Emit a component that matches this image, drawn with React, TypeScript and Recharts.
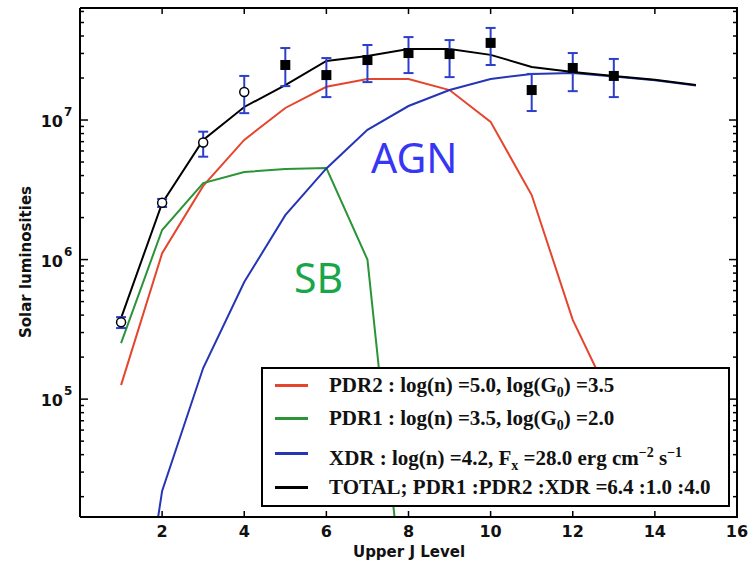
import React from 'react';
import { ComposedChart, Line, Scatter, XAxis, YAxis, ErrorBar, Legend, ReferenceLine } from 'recharts';

// ---- data ----
const jLevels = [1, 2, 3, 4, 5, 6, 7, 8, 9, 10, 11, 12, 13, 14, 15];
const pdr2 = [1.26e5, 1.11e6, 3.37e6, 7.2e6, 1.22e7, 1.73e7, 1.97e7, 1.97e7, 1.64e7, 9.7e6, 2.9e6, 3.7e5, 9.0e4, null, null];
const pdr1 = [2.52e5, 1.63e6, 3.53e6, 4.24e6, 4.45e6, 4.53e6, 1.0e6, 1.6e3, null, null, null, null, null, null, null];
const xdr = [2.6e2, 2.2e4, 1.67e5, 6.9e5, 2.08e6, 4.5e6, 8.5e6, 1.26e7, 1.64e7, 1.97e7, 2.14e7, 2.17e7, 2.05e7, 1.93e7, 1.77e7];
const total = [3.81e5, 2.54e6, 7.2e6, 1.24e7, 1.78e7, 2.65e7, 2.88e7, 3.23e7, 3.23e7, 2.93e7, 2.4e7, 2.21e7, 2.07e7, 1.94e7, 1.78e7];

const obsJ = [1, 2, 3, 4, 5, 6, 7, 8, 9, 10, 11, 12, 13];
const obsVal = [3.56e5, 2.55e6, 6.9e6, 1.59e7, 2.48e7, 2.1e7, 2.69e7, 3.02e7, 2.97e7, 3.57e7, 1.64e7, 2.36e7, 2.07e7];
const obsLow = [3.23e5, 2.38e6, 5.46e6, 1.12e7, 1.75e7, 1.46e7, 1.87e7, 2.17e7, 2.03e7, 2.48e7, 1.16e7, 1.61e7, 1.46e7];
const obsHigh = [3.87e5, 2.72e6, 8.25e6, 2.07e7, 3.28e7, 2.78e7, 3.45e7, 3.93e7, 3.74e7, 4.57e7, 2.14e7, 3.02e7, 2.74e7];
const obsOpen = [true, true, true, true, false, false, false, false, false, false, false, false, false];

const xTicks = [2, 4, 6, 8, 10, 12, 14, 16];
const yMajorTicks = [1e5, 1e6, 1e7];
const yMajorLabels = ['5', '6', '7'];
const yTicks = [
  2e4, 3e4, 4e4, 5e4, 6e4, 7e4, 8e4, 9e4,
  1e5, 2e5, 3e5, 4e5, 5e5, 6e5, 7e5, 8e5, 9e5,
  1e6, 2e6, 3e6, 4e6, 5e6, 6e6, 7e6, 8e6, 9e6,
  1e7, 2e7, 3e7, 4e7, 5e7, 6e7,
];
const yDomain = [1.43e4, 6.35e7];
const xDomain = [0, 16];

const RED = '#e6452d';
const GREEN = '#2a9437';
const BLUE = '#2535b5';
const ERR = '#2b3fcc';

// layout (pixels)
const W = 755;
const H = 563;
const M = { top: 8, right: 18, bottom: 0, left: 0 };
const Y_AXIS_W = 80;
const X_AXIS_H = 46;
const PLOT_LEFT = M.left + Y_AXIS_W;
const PLOT_TOP = M.top;
const PLOT_RIGHT = W - M.right;
const PLOT_BOTTOM = H - M.bottom - X_AXIS_H;

// frame tick positions for the mirrored (top / right) edges, same log/linear mapping as the axes
const yFrac = (v: number) =>
  (Math.log10(yDomain[1]) - Math.log10(v)) / (Math.log10(yDomain[1]) - Math.log10(yDomain[0]));
const yPix = (v: number) => PLOT_TOP + yFrac(v) * (PLOT_BOTTOM - PLOT_TOP);
const xPix = (v: number) => PLOT_LEFT + ((v - xDomain[0]) / (xDomain[1] - xDomain[0])) * (PLOT_RIGHT - PLOT_LEFT);

const lineTable = jLevels.map((j, i) => ({ j, pdr2: pdr2[i], pdr1: pdr1[i], xdr: xdr[i], total: total[i] }));
const obsTable = obsJ.map((j, i) => ({ j, v: obsVal[i], err: [obsVal[i] - obsLow[i], obsHigh[i] - obsVal[i]], open: obsOpen[i] }));
const openObs = obsTable.filter((d) => d.open);
const filledObs = obsTable.filter((d) => !d.open);

const tickFont = { fontFamily: 'DejaVu Sans', fontWeight: 'bold' as const, fontSize: 16, fill: '#111' };

const LeftTick = (props: any) => {
  const { x, y, payload } = props;
  const idx = yMajorTicks.indexOf(payload.value);
  const major = idx >= 0;
  const len = major ? 8 : 4;
  return (
    <g>
      <line x1={x} x2={x + len} y1={y} y2={y} stroke="#000" strokeWidth={1.5} />
      {major && (
        <text x={x - 17} y={y + 7} textAnchor="end" {...tickFont}>
          10
        </text>
      )}
      {major && (
        <text x={x - 16} y={y - 4} textAnchor="start" {...tickFont} fontSize={12}>
          {yMajorLabels[idx]}
        </text>
      )}
    </g>
  );
};

const BottomTick = (props: any) => {
  const { x, y, payload } = props;
  return (
    <g>
      <line x1={x} x2={x} y1={y - 6} y2={y} stroke="#000" strokeWidth={1.5} />
      <text x={x} y={y + 20} textAnchor="middle" {...tickFont}>
        {payload.value}
      </text>
    </g>
  );
};

const subStyle = { fontSize: 14 };

const legendRows = [
  {
    color: RED,
    top: 18,
    text: (
      <span>
        PDR2 : log(n) =5.0, log(G<sub style={subStyle}>0</sub>) =3.5
      </span>
    ),
  },
  {
    color: GREEN,
    top: 51,
    text: (
      <span>
        PDR1 : log(n) =3.5, log(G<sub style={subStyle}>0</sub>) =2.0
      </span>
    ),
  },
  {
    color: BLUE,
    top: 86,
    text: (
      <span>
        XDR : log(n) =4.2, F<sub style={subStyle}>x</sub> =28.0 erg cm<sup style={subStyle}>−2</sup> s<sup style={subStyle}>−1</sup>
      </span>
    ),
  },
  {
    color: '#000',
    top: 120,
    text: <span>TOTAL; PDR1 :PDR2 :XDR =6.4 :1.0 :4.0</span>,
  },
];

const LegendBox = () => (
  <div
    style={{
      position: 'relative',
      width: 469,
      height: 140,
      boxSizing: 'border-box',
      border: '2px solid #000',
      background: '#fff',
      fontFamily: 'Liberation Serif',
      fontWeight: 'bold',
      fontSize: 21,
      color: '#111',
    }}
  >
    {legendRows.map((r, i) => (
      <div key={i} style={{ position: 'absolute', left: 0, top: r.top - 2 - 14, height: 28, width: 465 }}>
        <div style={{ position: 'absolute', left: 12, top: 13, width: 33, height: 2.5, background: r.color }} />
        <div style={{ position: 'absolute', left: 66, top: 0, lineHeight: '28px', whiteSpace: 'nowrap' }}>{r.text}</div>
      </div>
    ))}
  </div>
);

export default function App() {
  return (
    <div style={{ position: 'absolute', left: 0, top: 0, width: W, height: H, background: '#fff' }}>
      <ComposedChart width={W} height={H} margin={M}>
        <XAxis
          xAxisId="b"
          dataKey="j"
          type="number"
          domain={xDomain}
          ticks={xTicks}
          interval={0}
          allowDataOverflow
          height={X_AXIS_H}
          tickSize={0}
          tickMargin={0}
          tickLine={false}
          tick={BottomTick}
          axisLine={{ stroke: '#000', strokeWidth: 2 }}
        />
        <YAxis
          yAxisId="l"
          scale="log"
          type="number"
          domain={yDomain}
          ticks={yTicks}
          interval={0}
          allowDataOverflow
          width={Y_AXIS_W}
          tickSize={0}
          tickMargin={0}
          tickLine={false}
          tick={LeftTick}
          axisLine={{ stroke: '#000', strokeWidth: 2 }}
        />
        <ReferenceLine xAxisId="b" yAxisId="l" y={yDomain[1]} stroke="#000" strokeWidth={2} ifOverflow="visible" />
        <Line data={lineTable} xAxisId="b" yAxisId="l" dataKey="pdr2" stroke={RED} strokeWidth={2} dot={false} isAnimationActive={false} />
        <Line data={lineTable} xAxisId="b" yAxisId="l" dataKey="pdr1" stroke={GREEN} strokeWidth={2} dot={false} isAnimationActive={false} />
        <Line data={lineTable} xAxisId="b" yAxisId="l" dataKey="xdr" stroke={BLUE} strokeWidth={2} dot={false} isAnimationActive={false} />
        <Line data={lineTable} xAxisId="b" yAxisId="l" dataKey="total" stroke="#000" strokeWidth={2} dot={false} isAnimationActive={false} />
        <Scatter
          data={openObs}
          xAxisId="b"
          yAxisId="l"
          dataKey="v"
          isAnimationActive={false}
          shape={(p: any) => <circle cx={p.cx} cy={p.cy} r={4.5} fill="#fff" stroke="#000" strokeWidth={1.5} />}
        >
          <ErrorBar dataKey="err" direction="y" width={5} stroke={ERR} strokeWidth={2} />
        </Scatter>
        <Scatter
          data={filledObs}
          xAxisId="b"
          yAxisId="l"
          dataKey="v"
          isAnimationActive={false}
          shape={(p: any) => <rect x={p.cx - 5} y={p.cy - 5} width={10} height={10} fill="#000" />}
        >
          <ErrorBar dataKey="err" direction="y" width={5} stroke={ERR} strokeWidth={2} />
        </Scatter>
        <Legend
          layout="vertical"
          align="center"
          verticalAlign="middle"
          content={() => <LegendBox />}
          wrapperStyle={{ position: 'absolute', left: 261, top: 367, width: 469, height: 140, margin: 0, padding: 0 }}
        />
      </ComposedChart>
      <svg width={W} height={H} style={{ position: 'absolute', left: 0, top: 0, pointerEvents: 'none' }}>
        {/* mirrored frame: right edge and its ticks, top ticks */}
        <line x1={PLOT_RIGHT} x2={PLOT_RIGHT} y1={PLOT_TOP - 1} y2={PLOT_BOTTOM + 1} stroke="#000" strokeWidth={2} />
        {yTicks.map((v) => {
          const len = yMajorTicks.indexOf(v) >= 0 ? 8 : 4;
          const y = yPix(v);
          return <line key={'r' + v} x1={PLOT_RIGHT - len} x2={PLOT_RIGHT} y1={y} y2={y} stroke="#000" strokeWidth={1.5} />;
        })}
        {xTicks.map((v) => {
          const x = xPix(v);
          return <line key={'t' + v} x1={x} x2={x} y1={PLOT_TOP} y2={PLOT_TOP + 6} stroke="#000" strokeWidth={1.5} />;
        })}
        <text x={371} y={173} fontFamily="Noto Sans" fontSize={41} fill="#3636f4">
          AGN
        </text>
        <text x={294} y={293} fontFamily="Noto Sans" fontSize={41} fill="#19a64a">
          SB
        </text>
        <text x={409} y={557} textAnchor="middle" fontFamily="DejaVu Sans" fontWeight="bold" fontSize={15} fill="#111">
          Upper J Level
        </text>
        <text
          x={31}
          y={262}
          textAnchor="middle"
          transform="rotate(-90 31 262)"
          fontFamily="DejaVu Sans"
          fontWeight="bold"
          fontSize={15}
          fill="#111"
        >
          Solar luminosities
        </text>
      </svg>
    </div>
  );
}
